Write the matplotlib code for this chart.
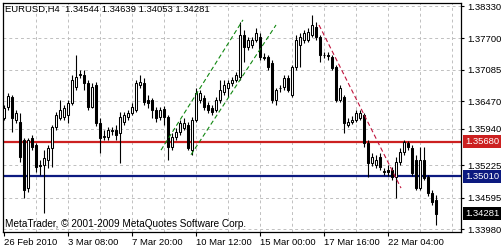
import matplotlib
matplotlib.use("Agg")
import matplotlib.pyplot as plt
import matplotlib.transforms as mtransforms
from matplotlib.patches import Rectangle

# EURUSD H4 bars, 26 Feb 2010 .. 24 Mar 2010
opens = [1.3615, 1.3636, 1.3656, 1.3611, 1.3607, 1.3572, 1.3478, 1.3576, 1.3562, 1.3523,
         1.3523, 1.3533, 1.3556, 1.3597, 1.3615, 1.3617, 1.3621, 1.3644, 1.3675, 1.3699,
         1.3699, 1.3683, 1.3636, 1.3679, 1.3605, 1.3578, 1.3578, 1.3590, 1.3592, 1.3586,
         1.3607, 1.3617, 1.3624, 1.3630, 1.3679, 1.3683, 1.3650, 1.3650, 1.3630, 1.3617,
         1.3632, 1.3617, 1.3558, 1.3578, 1.3588, 1.3595, 1.3601, 1.3552, 1.3611, 1.3650,
         1.3654, 1.3640, 1.3634, 1.3630, 1.3650, 1.3666, 1.3673, 1.3683, 1.3689, 1.3695,
         1.3777, 1.3753, 1.3757, 1.3767, 1.3773, 1.3734, 1.3734, 1.3722, 1.3650, 1.3673,
         1.3675, 1.3693, 1.3660, 1.3714, 1.3757, 1.3767, 1.3767, 1.3777, 1.3792, 1.3773,
         1.3738, 1.3738, 1.3734, 1.3714, 1.3650, 1.3656, 1.3601, 1.3607, 1.3611, 1.3615,
         1.3621, 1.3566, 1.3527, 1.3523, 1.3539, 1.3510, 1.3514, 1.3514, 1.3500, 1.3529,
         1.3549, 1.3566, 1.3556, 1.3533, 1.3478, 1.3533, 1.3500, 1.3469, 1.34544]
highs = [1.3640, 1.3663, 1.3660, 1.3630, 1.3624, 1.3576, 1.3576, 1.3582, 1.3566, 1.3533,
         1.3552, 1.3562, 1.3601, 1.3626, 1.3650, 1.3640, 1.3650, 1.3699, 1.3738, 1.3709,
         1.3709, 1.3689, 1.3683, 1.3685, 1.3615, 1.3592, 1.3597, 1.3597, 1.3601, 1.3626,
         1.3626, 1.3630, 1.3644, 1.3689, 1.3699, 1.3693, 1.3660, 1.3654, 1.3636, 1.3636,
         1.3638, 1.3621, 1.3586, 1.3595, 1.3611, 1.3615, 1.3607, 1.3617, 1.3673, 1.3669,
         1.3660, 1.3646, 1.3640, 1.3656, 1.3689, 1.3689, 1.3689, 1.3695, 1.3705, 1.3802,
         1.3787, 1.3773, 1.3773, 1.3790, 1.3781, 1.3742, 1.3738, 1.3728, 1.3673, 1.3679,
         1.3699, 1.3699, 1.3718, 1.3777, 1.3781, 1.3787, 1.3790, 1.3816, 1.3802, 1.3777,
         1.3744, 1.3744, 1.3738, 1.3718, 1.3679, 1.3660, 1.3615, 1.3619, 1.3630, 1.3630,
         1.3624, 1.3572, 1.3547, 1.3543, 1.3547, 1.3517, 1.3523, 1.3519, 1.3539, 1.3556,
         1.3572, 1.3570, 1.3562, 1.3543, 1.3558, 1.3558, 1.3504, 1.3475, 1.34639]
lows = [1.3611, 1.3630, 1.3587, 1.3605, 1.3529, 1.3459, 1.3470, 1.3552, 1.3509, 1.3503,
        1.3429, 1.3517, 1.3519, 1.3591, 1.3611, 1.3611, 1.3605, 1.3640, 1.3669, 1.3693,
        1.3669, 1.3630, 1.3634, 1.3599, 1.3547, 1.3572, 1.3572, 1.3582, 1.3572, 1.3527,
        1.3601, 1.3611, 1.3621, 1.3626, 1.3673, 1.3640, 1.3634, 1.3615, 1.3607, 1.3611,
        1.3601, 1.3533, 1.3552, 1.3572, 1.3582, 1.3592, 1.3552, 1.3543, 1.3607, 1.3644,
        1.3630, 1.3625, 1.3621, 1.3627, 1.3644, 1.3660, 1.3656, 1.3677, 1.3685, 1.3689,
        1.3724, 1.3748, 1.3751, 1.3763, 1.3728, 1.3728, 1.3708, 1.3644, 1.3640, 1.3666,
        1.3670, 1.3666, 1.3656, 1.3708, 1.3714, 1.3761, 1.3763, 1.3773, 1.3767, 1.3724,
        1.3732, 1.3728, 1.3708, 1.3646, 1.3646, 1.3586, 1.3597, 1.3603, 1.3607, 1.3611,
        1.3558, 1.3500, 1.3521, 1.3517, 1.3513, 1.3504, 1.3502, 1.3494, 1.3459, 1.3523,
        1.3543, 1.3552, 1.3502, 1.3475, 1.3475, 1.3494, 1.3463, 1.3445, 1.34053]
closes = [1.3634, 1.3657, 1.3615, 1.3624, 1.3539, 1.3474, 1.3572, 1.3558, 1.3519, 1.3521,
          1.3537, 1.3556, 1.3597, 1.3620, 1.3630, 1.3634, 1.3644, 1.3689, 1.3695, 1.3701,
          1.3683, 1.3636, 1.3675, 1.3605, 1.3576, 1.3580, 1.3592, 1.3592, 1.3582, 1.3617,
          1.3621, 1.3624, 1.3636, 1.3683, 1.3685, 1.3646, 1.3644, 1.3630, 1.3615, 1.3630,
          1.3617, 1.3558, 1.3578, 1.3588, 1.3605, 1.3605, 1.3556, 1.3611, 1.3664, 1.3664,
          1.3636, 1.3630, 1.3627, 1.3650, 1.3670, 1.3679, 1.3683, 1.3689, 1.3699, 1.3777,
          1.3753, 1.3767, 1.3767, 1.3781, 1.3734, 1.3732, 1.3714, 1.3650, 1.3670, 1.3674,
          1.3693, 1.3670, 1.3714, 1.3767, 1.3773, 1.3781, 1.3783, 1.3796, 1.3773, 1.3738,
          1.3737, 1.3736, 1.3712, 1.3650, 1.3673, 1.3605, 1.3607, 1.3611, 1.3624, 1.3624,
          1.3566, 1.3527, 1.3539, 1.3533, 1.3519, 1.3512, 1.3510, 1.3500, 1.3529, 1.3549,
          1.3568, 1.3558, 1.3508, 1.3478, 1.3533, 1.3498, 1.3469, 1.3451, 1.34281]

price_ticks = [1.38330, 1.37700, 1.37085, 1.36470, 1.35940, 1.35225, 1.34595, 1.33980]
date_tick_bars = [0, 16, 32, 48, 64, 80, 96]
date_labels = ["26 Feb 2010", "3 Mar 08:00", "7 Mar 20:00", "10 Mar 12:00",
               "15 Mar 00:00", "17 Mar 16:00", "22 Mar 04:00"]

resistance = 1.35680
support = 1.35010

# trend lines as (bar, price) end points
channel_low = [(39.25, 1.3552), (59.75, 1.3806)]
channel_high = [(46.75, 1.3543), (68.0, 1.3796)]
down_trend = [(78.75, 1.3796), (99.25, 1.3478)]

plt.rcParams["font.family"] = ["Liberation Sans", "DejaVu Sans"]
FS = 6.8

fig = plt.figure(figsize=(5.02, 2.5), dpi=100)
ax = fig.add_axes([3 / 502, 18 / 250, 458 / 502, 229 / 250])
ax.set_xlim(-0.25, 114.25)
ax.set_ylim(1.33923, 1.38389)

# grid
for p in price_ticks:
    ax.axhline(p, color="#c0c0c0", lw=0.7, ls=(0, (3, 3)), zorder=0)
for b in range(8, 115, 8):
    ax.axvline(b, color="#c0c0c0", lw=0.7, ls=(0, (3, 3)), zorder=0)

# horizontal levels
ax.axhline(resistance, color="#cc2020", lw=1.6, zorder=1)
ax.axhline(support, color="#0c1a80", lw=1.6, zorder=1)

# candles
for i, (o, h, l, c) in enumerate(zip(opens, highs, lows, closes)):
    ax.plot([i, i], [l, h], color="black", lw=0.8, zorder=2, solid_capstyle="butt")
    bottom = min(o, c)
    height = abs(c - o)
    face = "black" if c < o else "white"
    ax.add_patch(Rectangle((i - 0.32, bottom), 0.64, height, facecolor=face,
                           edgecolor="black", lw=0.75, zorder=3))

# trend lines
for line, col in [(channel_low, "#118811"), (channel_high, "#118811"), (down_trend, "#c0143c")]:
    xs, ys = zip(*line)
    ax.plot(xs, ys, color=col, lw=0.8, ls=(0, (4, 2.5)), zorder=4)

# axes styling
ax.yaxis.tick_right()
ax.set_yticks(price_ticks)
ax.set_yticklabels([f"{p:.5f}" for p in price_ticks], fontsize=FS)
ax.tick_params(axis="y", direction="out", length=2.5, width=0.8, pad=2)
ax.set_xticks(date_tick_bars)
ax.set_xticklabels(date_labels, fontsize=FS, ha="left")
ax.tick_params(axis="x", direction="out", length=3, width=0.8, pad=1.5)
for s in ax.spines.values():
    s.set_linewidth(0.9)

# price labels on the right scale
trans = mtransforms.blended_transform_factory(ax.transAxes, ax.transData)
off = mtransforms.ScaledTranslation(4 / 100, 0, fig.dpi_scale_trans)
for p, col in [(resistance, "#cc2020"), (support, "#0c1a80"), (closes[-1], "black")]:
    ax.text(1.0, p, f"{p:.5f}", transform=trans + off, fontsize=FS, color="white",
            va="center", ha="left", clip_on=False, zorder=10,
            bbox=dict(boxstyle="square,pad=0.22", fc=col, ec="none"))

ax.text(0.005, 0.99, f"EURUSD,H4  {opens[-1]:.5f} {highs[-1]:.5f} {lows[-1]:.5f} {closes[-1]:.5f}",
        transform=ax.transAxes, fontsize=FS, va="top", ha="left", zorder=11)
ax.text(0.004, 0.015, "MetaTrader, \u00a9 2001-2009 MetaQuotes Software Corp.",
        transform=ax.transAxes, fontsize=7.2, va="bottom", ha="left", zorder=11)

fig.savefig("out.png", dpi=100, facecolor="white")
